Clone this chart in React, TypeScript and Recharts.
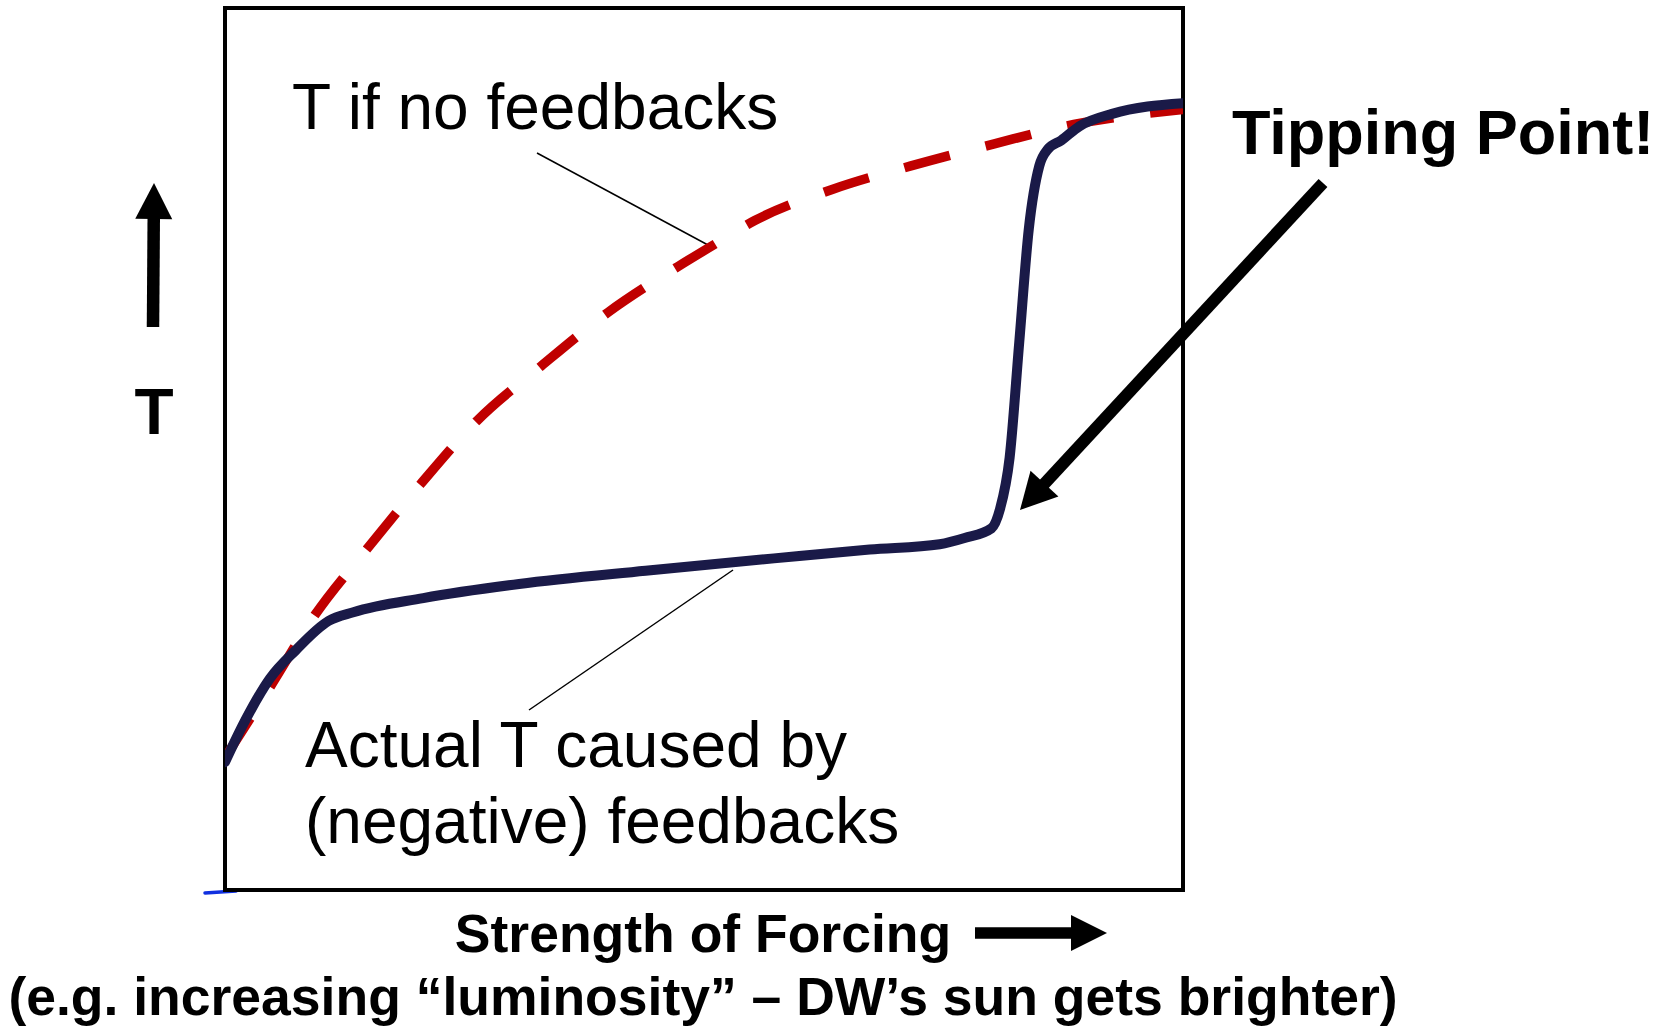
import React from "react";
import { LineChart, Line, XAxis, YAxis, Customized, ReferenceArea } from "recharts";

// Strength of forcing (x, 0-100) and temperature (T, 0-100)
const noFeedbackForcing = [0, 4.7, 9.4, 14.7, 20.4, 26.3, 33.0, 40.0, 47.3, 51.4, 55.3, 63.3, 71.6, 80.3, 88.6, 100];
const noFeedbackT = [15.0, 23.0, 31.2, 38.5, 46.0, 53.2, 59.4, 65.5, 70.7, 73.4, 75.9, 79.4, 82.1, 84.6, 86.8, 88.5];

const actualForcing = [0, 2.1, 4.7, 7.4, 10.8, 13.4, 20.7, 30.7, 43.9, 57.3, 67.3, 74.6, 77.2, 80.0, 80.9, 81.9, 82.9, 83.9, 85.0, 85.9, 87.3, 89.2, 92.6, 100];
const actualT = [14.5, 19.2, 24.0, 27.2, 30.5, 31.5, 33.1, 34.7, 36.2, 37.6, 38.6, 39.2, 39.9, 41.0, 43.2, 49.0, 62.0, 74.9, 82.1, 84.0, 85.0, 86.6, 88.0, 89.2];

const labelNoFeedback = "T if no feedbacks";
const labelActual1 = "Actual T caused by";
const labelActual2 = "(negative) feedbacks";
const labelTipping = "Tipping Point!";
const labelY = "T";
const labelX1 = "Strength of Forcing";
const labelX2 = "(e.g. increasing \u201cluminosity\u201d \u2013 DW\u2019s sun gets brighter)";

const noFeedbackData = noFeedbackForcing.map((x, i) => ({ x, t: noFeedbackT[i] }));
const actualData = actualForcing.map((x, i) => ({ x, t: actualT[i] }));

const FONT = "'Liberation Sans', Arial, Helvetica, sans-serif";

function Arrow({ x1, y1, x2, y2, width, headLen, headWidth }: any) {
  const dx = x2 - x1;
  const dy = y2 - y1;
  const len = Math.sqrt(dx * dx + dy * dy);
  const ux = dx / len;
  const uy = dy / len;
  const bx = x2 - ux * headLen;
  const by = y2 - uy * headLen;
  const px = -uy;
  const py = ux;
  const pts = [
    [x2, y2],
    [bx + px * headWidth / 2, by + py * headWidth / 2],
    [bx - px * headWidth / 2, by - py * headWidth / 2],
  ]
    .map((p) => p.join(","))
    .join(" ");
  return (
    <g>
      <line x1={x1} y1={y1} x2={bx + ux * 2} y2={by + uy * 2} stroke="#000" strokeWidth={width} />
      <polygon points={pts} fill="#000" />
    </g>
  );
}

function Annotations() {
  return (
    <g>
      <text x={292} y={129} fontFamily={FONT} fontSize={64} fill="#000">{labelNoFeedback}</text>
      <line x1={537} y1={153} x2={708} y2={245} stroke="#000" strokeWidth={1.5} />
      <text x={305} y={767} fontFamily={FONT} fontSize={64} fill="#000">{labelActual1}</text>
      <text x={305} y={843} fontFamily={FONT} fontSize={64} fill="#000">{labelActual2}</text>
      <line x1={529} y1={710} x2={733} y2={570} stroke="#000" strokeWidth={1.5} />
      <text x={1232} y={154} fontFamily={FONT} fontSize={63} fontWeight="bold" fill="#000">{labelTipping}</text>
      <Arrow x1={1323} y1={183} x2={1020} y2={510} width={12} headLen={36} headWidth={38} />
      <Arrow x1={153} y1={327} x2={154} y2={183} width={12.5} headLen={36} headWidth={37} />
      <text x={154} y={434} textAnchor="middle" fontFamily={FONT} fontSize={64} fontWeight="bold" fill="#000">{labelY}</text>
      <text x={703} y={952} textAnchor="middle" fontFamily={FONT} fontSize={53.5} fontWeight="bold" fill="#000">{labelX1}</text>
      <Arrow x1={975} y1={933} x2={1107} y2={933} width={11.5} headLen={36} headWidth={36} />
      <text x={703} y={1015} textAnchor="middle" fontFamily={FONT} fontSize={53.5} fontWeight="bold" fill="#000">{labelX2}</text>
      <line x1={205} y1={893} x2={236} y2={891} stroke="#1030e0" strokeWidth={3.5} strokeLinecap="round" />
    </g>
  );
}

export default function App() {
  return (
    <div style={{ position: "absolute", left: 0, top: 0, width: 1666, height: 1029, background: "#fff" }}>
      <LineChart width={1666} height={1029} margin={{ left: 225, right: 483, top: 8, bottom: 139 }}>
        <XAxis type="number" dataKey="x" domain={[0, 100]} hide allowDataOverflow />
        <YAxis type="number" dataKey="t" domain={[0, 100]} hide width={0} allowDataOverflow />
        <ReferenceArea x1={0} x2={100} y1={0} y2={100} fill="none" fillOpacity={0} stroke="#000" strokeWidth={4} ifOverflow="visible" />
        <Line
          data={noFeedbackData}
          dataKey="t"
          type="monotone"
          stroke="#C00000"
          strokeWidth={9.5}
          strokeDasharray="47 37"
          dot={false}
          activeDot={false}
          isAnimationActive={false}
        />
        <Line
          data={actualData}
          dataKey="t"
          type="monotone"
          stroke="#1A1A48"
          strokeWidth={10}
          strokeLinecap="round"
          strokeLinejoin="round"
          dot={false}
          activeDot={false}
          isAnimationActive={false}
        />
        <Customized component={<Annotations />} />
      </LineChart>
    </div>
  );
}
